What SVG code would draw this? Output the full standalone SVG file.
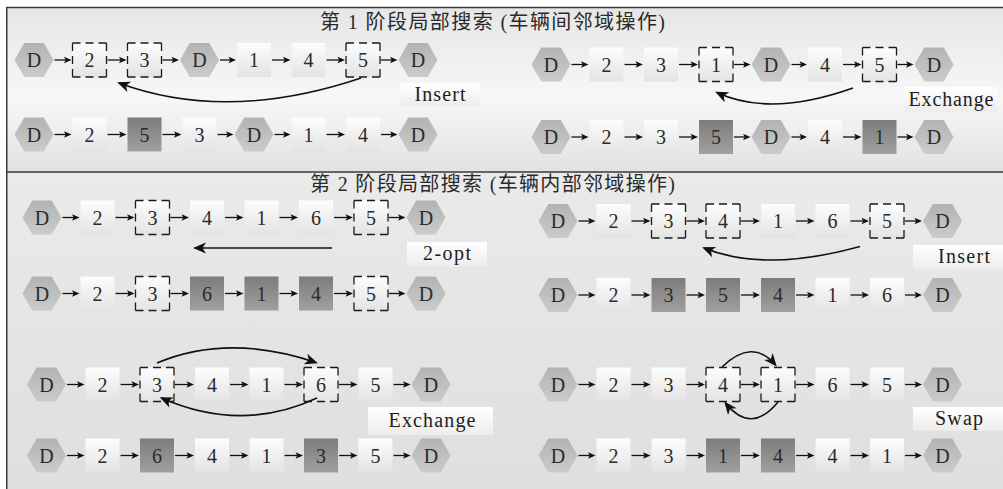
<svg xmlns="http://www.w3.org/2000/svg" xmlns:xlink="http://www.w3.org/1999/xlink" width="1003" height="489" viewBox="0 0 1003 489">
<defs>
<linearGradient id="gBg1" x1="0" y1="0" x2="0" y2="1"><stop offset="0" stop-color="#e6e6e6"/><stop offset="0.2" stop-color="#ececec"/><stop offset="0.55" stop-color="#f7f7f7"/><stop offset="1" stop-color="#e2e2e2"/></linearGradient>
<linearGradient id="gBg2" x1="0" y1="0" x2="0" y2="1"><stop offset="0" stop-color="#eaeaea"/><stop offset="1" stop-color="#dfdfdf"/></linearGradient>
<linearGradient id="gW" x1="0" y1="0" x2="0" y2="1"><stop offset="0" stop-color="#fdfdfd"/><stop offset="1" stop-color="#e3e3e3"/></linearGradient>
<linearGradient id="gD" x1="0" y1="0" x2="0" y2="1"><stop offset="0" stop-color="#7c7c7c"/><stop offset="1" stop-color="#a0a0a0"/></linearGradient>
<linearGradient id="gH" x1="0" y1="0" x2="0" y2="1"><stop offset="0" stop-color="#b3b3b3"/><stop offset="1" stop-color="#cbcbcb"/></linearGradient>
<linearGradient id="gL" x1="0" y1="0" x2="0" y2="1"><stop offset="0" stop-color="#ffffff"/><stop offset="1" stop-color="#ececec"/></linearGradient>
<path id="hex" d="M-19.5,0 L-9.75,-16.9 L9.75,-16.9 L19.5,0 L9.75,16.9 L-9.75,16.9 Z"/>
<rect id="box" x="-17" y="-17" width="34" height="34"/>
<marker id="ah" markerUnits="userSpaceOnUse" markerWidth="12" markerHeight="12" refX="0" refY="0" orient="auto" overflow="visible"><path d="M3,0 L-4.5,-3.3 L-2.8,0 L-4.5,3.3 Z" fill="#111"/></marker>
<marker id="ahb" markerUnits="userSpaceOnUse" markerWidth="16" markerHeight="16" refX="0" refY="0" orient="auto" overflow="visible"><path d="M2,0 L-11,-5.5 L-7.5,0 L-11,5.5 Z" fill="#111"/></marker>
<style>
.hx{fill:url(#gH)}
.bw{fill:url(#gW)}
.bd{fill:url(#gD)}
.ds{stroke:#1a1a1a;stroke-width:1.3;stroke-dasharray:8 5 8 5 8 0}
.t{font-family:"Liberation Serif","DejaVu Serif",serif;font-size:20px;text-anchor:middle;fill:#2a2a2a}
.lb{fill:url(#gL)}
.lt{font-family:"Liberation Serif","DejaVu Serif",serif;font-size:20px;text-anchor:middle;fill:#1e1e1e}
.ti{font-family:"Liberation Serif","Noto Sans CJK SC",serif;font-size:20px;fill:#2a2a2a}
.fr{stroke:#3a3a3a;stroke-width:1.5;fill:none}
.cn{stroke:#111;stroke-width:1.3;fill:none;marker-end:url(#ah)}
.cv{stroke:#111;stroke-width:1.6;fill:none;marker-end:url(#ahb)}
</style>
</defs>

<g id="background">
<rect x="6" y="7" width="997" height="165" fill="url(#gBg1)"/>
<rect x="6" y="172" width="997" height="317" fill="url(#gBg2)"/>
<path class="fr" d="M6,7.5 H1003 M6.75,7 V489 M6,172 H1003"/>
</g>

<g id="titles">
<text id="title1" class="ti" x="320" y="29" textLength="345" lengthAdjust="spacing">第 1 阶段局部搜索 (车辆间邻域操作)</text>
<text id="title2" class="ti" x="310" y="191" textLength="365" lengthAdjust="spacing">第 2 阶段局部搜索 (车辆内部邻域操作)</text>
</g>

<!-- Stage 1 left, row 1 -->
<g id="a0" transform="translate(34,60)"><use href="#hex" class="hx"/><text class="t" y="7">D</text></g>
<g id="a1" transform="translate(89.5,60)"><use href="#box" class="bw ds"/><text class="t" y="7">2</text></g>
<g id="a2" transform="translate(144.5,60)"><use href="#box" class="bw ds"/><text class="t" y="7">3</text></g>
<g id="a3" transform="translate(199.5,60)"><use href="#hex" class="hx"/><text class="t" y="7">D</text></g>
<g id="a4" transform="translate(254,60)"><use href="#box" class="bw"/><text class="t" y="7">1</text></g>
<g id="a5" transform="translate(308.5,60)"><use href="#box" class="bw"/><text class="t" y="7">4</text></g>
<g id="a6" transform="translate(363,60)"><use href="#box" class="bw ds"/><text class="t" y="7">5</text></g>
<g id="a7" transform="translate(418,60)"><use href="#hex" class="hx"/><text class="t" y="7">D</text></g>
<!-- Stage 1 left, row 2 -->
<g id="b0" transform="translate(34,134.5)"><use href="#hex" class="hx"/><text class="t" y="7">D</text></g>
<g id="b1" transform="translate(89.5,134.5)"><use href="#box" class="bw"/><text class="t" y="7">2</text></g>
<g id="b2" transform="translate(144.5,134.5)"><use href="#box" class="bd"/><text class="t" y="7">5</text></g>
<g id="b3" transform="translate(199.5,134.5)"><use href="#box" class="bw"/><text class="t" y="7">3</text></g>
<g id="b4" transform="translate(254,134.5)"><use href="#hex" class="hx"/><text class="t" y="7">D</text></g>
<g id="b5" transform="translate(308.5,134.5)"><use href="#box" class="bw"/><text class="t" y="7">1</text></g>
<g id="b6" transform="translate(363,134.5)"><use href="#box" class="bw"/><text class="t" y="7">4</text></g>
<g id="b7" transform="translate(418,134.5)"><use href="#hex" class="hx"/><text class="t" y="7">D</text></g>
<!-- Stage 1 right, row 1 -->
<g id="c0" transform="translate(551,64.5)"><use href="#hex" class="hx"/><text class="t" y="7">D</text></g>
<g id="c1" transform="translate(606.5,64.5)"><use href="#box" class="bw"/><text class="t" y="7">2</text></g>
<g id="c2" transform="translate(661,64.5)"><use href="#box" class="bw"/><text class="t" y="7">3</text></g>
<g id="c3" transform="translate(716,64.5)"><use href="#box" class="bw ds"/><text class="t" y="7">1</text></g>
<g id="c4" transform="translate(771,64.5)"><use href="#hex" class="hx"/><text class="t" y="7">D</text></g>
<g id="c5" transform="translate(825,64.5)"><use href="#box" class="bw"/><text class="t" y="7">4</text></g>
<g id="c6" transform="translate(879.5,64.5)"><use href="#box" class="bw ds"/><text class="t" y="7">5</text></g>
<g id="c7" transform="translate(934,64.5)"><use href="#hex" class="hx"/><text class="t" y="7">D</text></g>
<!-- Stage 1 right, row 2 -->
<g id="d0" transform="translate(551,137)"><use href="#hex" class="hx"/><text class="t" y="7">D</text></g>
<g id="d1" transform="translate(606.5,137)"><use href="#box" class="bw"/><text class="t" y="7">2</text></g>
<g id="d2" transform="translate(661,137)"><use href="#box" class="bw"/><text class="t" y="7">3</text></g>
<g id="d3" transform="translate(716,137)"><use href="#box" class="bd"/><text class="t" y="7">5</text></g>
<g id="d4" transform="translate(771,137)"><use href="#hex" class="hx"/><text class="t" y="7">D</text></g>
<g id="d5" transform="translate(825,137)"><use href="#box" class="bw"/><text class="t" y="7">4</text></g>
<g id="d6" transform="translate(879.5,137)"><use href="#box" class="bd"/><text class="t" y="7">1</text></g>
<g id="d7" transform="translate(934,137)"><use href="#hex" class="hx"/><text class="t" y="7">D</text></g>
<!-- Stage 2 left, row 1 -->
<g id="e0" transform="translate(42,217.5)"><use href="#hex" class="hx"/><text class="t" y="7">D</text></g>
<g id="e1" transform="translate(97.5,217.5)"><use href="#box" class="bw"/><text class="t" y="7">2</text></g>
<g id="e2" transform="translate(152.5,217.5)"><use href="#box" class="bw ds"/><text class="t" y="7">3</text></g>
<g id="e3" transform="translate(207,217.5)"><use href="#box" class="bw"/><text class="t" y="7">4</text></g>
<g id="e4" transform="translate(261.5,217.5)"><use href="#box" class="bw"/><text class="t" y="7">1</text></g>
<g id="e5" transform="translate(316,217.5)"><use href="#box" class="bw"/><text class="t" y="7">6</text></g>
<g id="e6" transform="translate(371,217.5)"><use href="#box" class="bw ds"/><text class="t" y="7">5</text></g>
<g id="e7" transform="translate(426,217.5)"><use href="#hex" class="hx"/><text class="t" y="7">D</text></g>
<!-- Stage 2 left, row 2 -->
<g id="f0" transform="translate(42,293.5)"><use href="#hex" class="hx"/><text class="t" y="7">D</text></g>
<g id="f1" transform="translate(97.5,293.5)"><use href="#box" class="bw"/><text class="t" y="7">2</text></g>
<g id="f2" transform="translate(152.5,293.5)"><use href="#box" class="bw ds"/><text class="t" y="7">3</text></g>
<g id="f3" transform="translate(207,293.5)"><use href="#box" class="bd"/><text class="t" y="7">6</text></g>
<g id="f4" transform="translate(261.5,293.5)"><use href="#box" class="bd"/><text class="t" y="7">1</text></g>
<g id="f5" transform="translate(316,293.5)"><use href="#box" class="bd"/><text class="t" y="7">4</text></g>
<g id="f6" transform="translate(371,293.5)"><use href="#box" class="bw ds"/><text class="t" y="7">5</text></g>
<g id="f7" transform="translate(426,293.5)"><use href="#hex" class="hx"/><text class="t" y="7">D</text></g>
<!-- Stage 2 right, row 1 -->
<g id="g0" transform="translate(558,221)"><use href="#hex" class="hx"/><text class="t" y="7">D</text></g>
<g id="g1" transform="translate(613.5,221)"><use href="#box" class="bw"/><text class="t" y="7">2</text></g>
<g id="g2" transform="translate(668.5,221)"><use href="#box" class="bw ds"/><text class="t" y="7">3</text></g>
<g id="g3" transform="translate(723,221)"><use href="#box" class="bw ds"/><text class="t" y="7">4</text></g>
<g id="g4" transform="translate(778,221)"><use href="#box" class="bw"/><text class="t" y="7">1</text></g>
<g id="g5" transform="translate(832.5,221)"><use href="#box" class="bw"/><text class="t" y="7">6</text></g>
<g id="g6" transform="translate(887,221)"><use href="#box" class="bw ds"/><text class="t" y="7">5</text></g>
<g id="g7" transform="translate(942.5,221)"><use href="#hex" class="hx"/><text class="t" y="7">D</text></g>
<!-- Stage 2 right, row 2 -->
<g id="h0" transform="translate(558,295)"><use href="#hex" class="hx"/><text class="t" y="7">D</text></g>
<g id="h1" transform="translate(613.5,295)"><use href="#box" class="bw"/><text class="t" y="7">2</text></g>
<g id="h2" transform="translate(668.5,295)"><use href="#box" class="bd"/><text class="t" y="7">3</text></g>
<g id="h3" transform="translate(723,295)"><use href="#box" class="bd"/><text class="t" y="7">5</text></g>
<g id="h4" transform="translate(778,295)"><use href="#box" class="bd"/><text class="t" y="7">4</text></g>
<g id="h5" transform="translate(832.5,295)"><use href="#box" class="bw"/><text class="t" y="7">1</text></g>
<g id="h6" transform="translate(887,295)"><use href="#box" class="bw"/><text class="t" y="7">6</text></g>
<g id="h7" transform="translate(942.5,295)"><use href="#hex" class="hx"/><text class="t" y="7">D</text></g>
<!-- Stage 2 left, row 3 -->
<g id="i0" transform="translate(46.5,384.5)"><use href="#hex" class="hx"/><text class="t" y="7">D</text></g>
<g id="i1" transform="translate(102.5,384.5)"><use href="#box" class="bw"/><text class="t" y="7">2</text></g>
<g id="i2" transform="translate(157,384.5)"><use href="#box" class="bw ds"/><text class="t" y="7">3</text></g>
<g id="i3" transform="translate(212,384.5)"><use href="#box" class="bw"/><text class="t" y="7">4</text></g>
<g id="i4" transform="translate(266.5,384.5)"><use href="#box" class="bw"/><text class="t" y="7">1</text></g>
<g id="i5" transform="translate(321,384.5)"><use href="#box" class="bw ds"/><text class="t" y="7">6</text></g>
<g id="i6" transform="translate(375.5,384.5)"><use href="#box" class="bw"/><text class="t" y="7">5</text></g>
<g id="i7" transform="translate(431,384.5)"><use href="#hex" class="hx"/><text class="t" y="7">D</text></g>
<!-- Stage 2 left, row 4 -->
<g id="j0" transform="translate(46.5,455.5)"><use href="#hex" class="hx"/><text class="t" y="7">D</text></g>
<g id="j1" transform="translate(102.5,455.5)"><use href="#box" class="bw"/><text class="t" y="7">2</text></g>
<g id="j2" transform="translate(157,455.5)"><use href="#box" class="bd"/><text class="t" y="7">6</text></g>
<g id="j3" transform="translate(212,455.5)"><use href="#box" class="bw"/><text class="t" y="7">4</text></g>
<g id="j4" transform="translate(266.5,455.5)"><use href="#box" class="bw"/><text class="t" y="7">1</text></g>
<g id="j5" transform="translate(321,455.5)"><use href="#box" class="bd"/><text class="t" y="7">3</text></g>
<g id="j6" transform="translate(375.5,455.5)"><use href="#box" class="bw"/><text class="t" y="7">5</text></g>
<g id="j7" transform="translate(431,455.5)"><use href="#hex" class="hx"/><text class="t" y="7">D</text></g>
<!-- Stage 2 right, row 3 -->
<g id="k0" transform="translate(558,384.5)"><use href="#hex" class="hx"/><text class="t" y="7">D</text></g>
<g id="k1" transform="translate(613.5,384.5)"><use href="#box" class="bw"/><text class="t" y="7">2</text></g>
<g id="k2" transform="translate(668.5,384.5)"><use href="#box" class="bw"/><text class="t" y="7">3</text></g>
<g id="k3" transform="translate(723,384.5)"><use href="#box" class="bw ds"/><text class="t" y="7">4</text></g>
<g id="k4" transform="translate(778,384.5)"><use href="#box" class="bw ds"/><text class="t" y="7">1</text></g>
<g id="k5" transform="translate(832.5,384.5)"><use href="#box" class="bw"/><text class="t" y="7">6</text></g>
<g id="k6" transform="translate(887,384.5)"><use href="#box" class="bw"/><text class="t" y="7">5</text></g>
<g id="k7" transform="translate(942.5,384.5)"><use href="#hex" class="hx"/><text class="t" y="7">D</text></g>
<!-- Stage 2 right, row 4 -->
<g id="l0" transform="translate(558,455.5)"><use href="#hex" class="hx"/><text class="t" y="7">D</text></g>
<g id="l1" transform="translate(613.5,455.5)"><use href="#box" class="bw"/><text class="t" y="7">2</text></g>
<g id="l2" transform="translate(668.5,455.5)"><use href="#box" class="bw"/><text class="t" y="7">3</text></g>
<g id="l3" transform="translate(723,455.5)"><use href="#box" class="bd"/><text class="t" y="7">1</text></g>
<g id="l4" transform="translate(778,455.5)"><use href="#box" class="bd"/><text class="t" y="7">4</text></g>
<g id="l5" transform="translate(832.5,455.5)"><use href="#box" class="bw"/><text class="t" y="7">4</text></g>
<g id="l6" transform="translate(887,455.5)"><use href="#box" class="bw"/><text class="t" y="7">1</text></g>
<g id="l7" transform="translate(942.5,455.5)"><use href="#hex" class="hx"/><text class="t" y="7">D</text></g>

<!-- operation labels -->
<g id="lab1"><rect class="lb" x="400" y="83" width="80" height="24"/><text class="lt" x="440" y="101" textLength="51" lengthAdjust="spacing">Insert</text></g>
<g id="lab2"><rect class="lb" x="905" y="87" width="92" height="26"/><text class="lt" x="951" y="106" textLength="85" lengthAdjust="spacing">Exchange</text></g>
<g id="lab3"><rect class="lb" x="407" y="242" width="80" height="25"/><text class="lt" x="447" y="260" textLength="48" lengthAdjust="spacing">2-opt</text></g>
<g id="lab4"><rect class="lb" x="913" y="245" width="90" height="25"/><text class="lt" x="964" y="263" textLength="52" lengthAdjust="spacing">Insert</text></g>
<g id="lab5"><rect class="lb" x="368" y="407" width="125" height="28"/><text class="lt" x="432" y="427" textLength="87" lengthAdjust="spacing">Exchange</text></g>
<g id="lab6"><rect class="lb" x="913" y="407" width="90" height="24"/><text class="lt" x="959" y="425" textLength="48" lengthAdjust="spacing">Swap</text></g>

<g id="connectors">
<path class="cn" d="M54.5 60H68.5"/><path class="cn" d="M107.5 60H123.5"/><path class="cn" d="M162.5 60H176"/><path class="cn" d="M220 60H233"/><path class="cn" d="M272 60H287.5"/><path class="cn" d="M326.5 60H342"/><path class="cn" d="M381 60H394.5"/>
<path class="cn" d="M54.5 134.5H68.5"/><path class="cn" d="M107.5 134.5H123.5"/><path class="cn" d="M162.5 134.5H178.5"/><path class="cn" d="M217.5 134.5H230.5"/><path class="cn" d="M274.5 134.5H287.5"/><path class="cn" d="M326.5 134.5H342"/><path class="cn" d="M381 134.5H394.5"/>
<path class="cn" d="M571.5 64.5H585.5"/><path class="cn" d="M624.5 64.5H640"/><path class="cn" d="M679 64.5H695"/><path class="cn" d="M734 64.5H747.5"/><path class="cn" d="M791.5 64.5H804"/><path class="cn" d="M843 64.5H858.5"/><path class="cn" d="M897.5 64.5H910.5"/>
<path class="cn" d="M571.5 137H585.5"/><path class="cn" d="M624.5 137H640"/><path class="cn" d="M679 137H695"/><path class="cn" d="M734 137H747.5"/><path class="cn" d="M791.5 137H804"/><path class="cn" d="M843 137H858.5"/><path class="cn" d="M897.5 137H910.5"/>
<path class="cn" d="M62.5 217.5H76.5"/><path class="cn" d="M115.5 217.5H131.5"/><path class="cn" d="M170.5 217.5H186"/><path class="cn" d="M225 217.5H240.5"/><path class="cn" d="M279.5 217.5H295"/><path class="cn" d="M334 217.5H350"/><path class="cn" d="M389 217.5H402.5"/>
<path class="cn" d="M62.5 293.5H76.5"/><path class="cn" d="M115.5 293.5H131.5"/><path class="cn" d="M170.5 293.5H186"/><path class="cn" d="M225 293.5H240.5"/><path class="cn" d="M279.5 293.5H295"/><path class="cn" d="M334 293.5H350"/><path class="cn" d="M389 293.5H402.5"/>
<path class="cn" d="M578.5 221H592.5"/><path class="cn" d="M631.5 221H647.5"/><path class="cn" d="M686.5 221H702"/><path class="cn" d="M741 221H757"/><path class="cn" d="M796 221H811.5"/><path class="cn" d="M850.5 221H866"/><path class="cn" d="M905 221H919"/>
<path class="cn" d="M578.5 295H592.5"/><path class="cn" d="M631.5 295H647.5"/><path class="cn" d="M686.5 295H702"/><path class="cn" d="M741 295H757"/><path class="cn" d="M796 295H811.5"/><path class="cn" d="M850.5 295H866"/><path class="cn" d="M905 295H919"/>
<path class="cn" d="M67 384.5H81.5"/><path class="cn" d="M120.5 384.5H136"/><path class="cn" d="M175 384.5H191"/><path class="cn" d="M230 384.5H245.5"/><path class="cn" d="M284.5 384.5H300"/><path class="cn" d="M339 384.5H354.5"/><path class="cn" d="M393.5 384.5H407.5"/>
<path class="cn" d="M67 455.5H81.5"/><path class="cn" d="M120.5 455.5H136"/><path class="cn" d="M175 455.5H191"/><path class="cn" d="M230 455.5H245.5"/><path class="cn" d="M284.5 455.5H300"/><path class="cn" d="M339 455.5H354.5"/><path class="cn" d="M393.5 455.5H407.5"/>
<path class="cn" d="M578.5 384.5H592.5"/><path class="cn" d="M631.5 384.5H647.5"/><path class="cn" d="M686.5 384.5H702"/><path class="cn" d="M741 384.5H757"/><path class="cn" d="M796 384.5H811.5"/><path class="cn" d="M850.5 384.5H866"/><path class="cn" d="M905 384.5H919"/>
<path class="cn" d="M578.5 455.5H592.5"/><path class="cn" d="M631.5 455.5H647.5"/><path class="cn" d="M686.5 455.5H702"/><path class="cn" d="M741 455.5H757"/><path class="cn" d="M796 455.5H811.5"/><path class="cn" d="M850.5 455.5H866"/><path class="cn" d="M905 455.5H919"/>
<path class="cv" d="M361 78 Q227 123 119 83"/>
<path class="cv" d="M853 88 Q770 117.5 717 92.5"/>
<path class="cv" d="M332 248 H195"/>
<path class="cv" d="M860 246.5 Q765 272.75 704 248"/>
<path class="cv" d="M157 363 Q228.5 333 316 362.5"/>
<path class="cv" d="M317 398 Q241.75 433.25 161.5 398"/>
<path class="cv" d="M722 367 Q752.5 337.5 775.5 365"/>
<path class="cv" d="M778 402 Q751 435 725.5 403"/>
</g>
</svg>
